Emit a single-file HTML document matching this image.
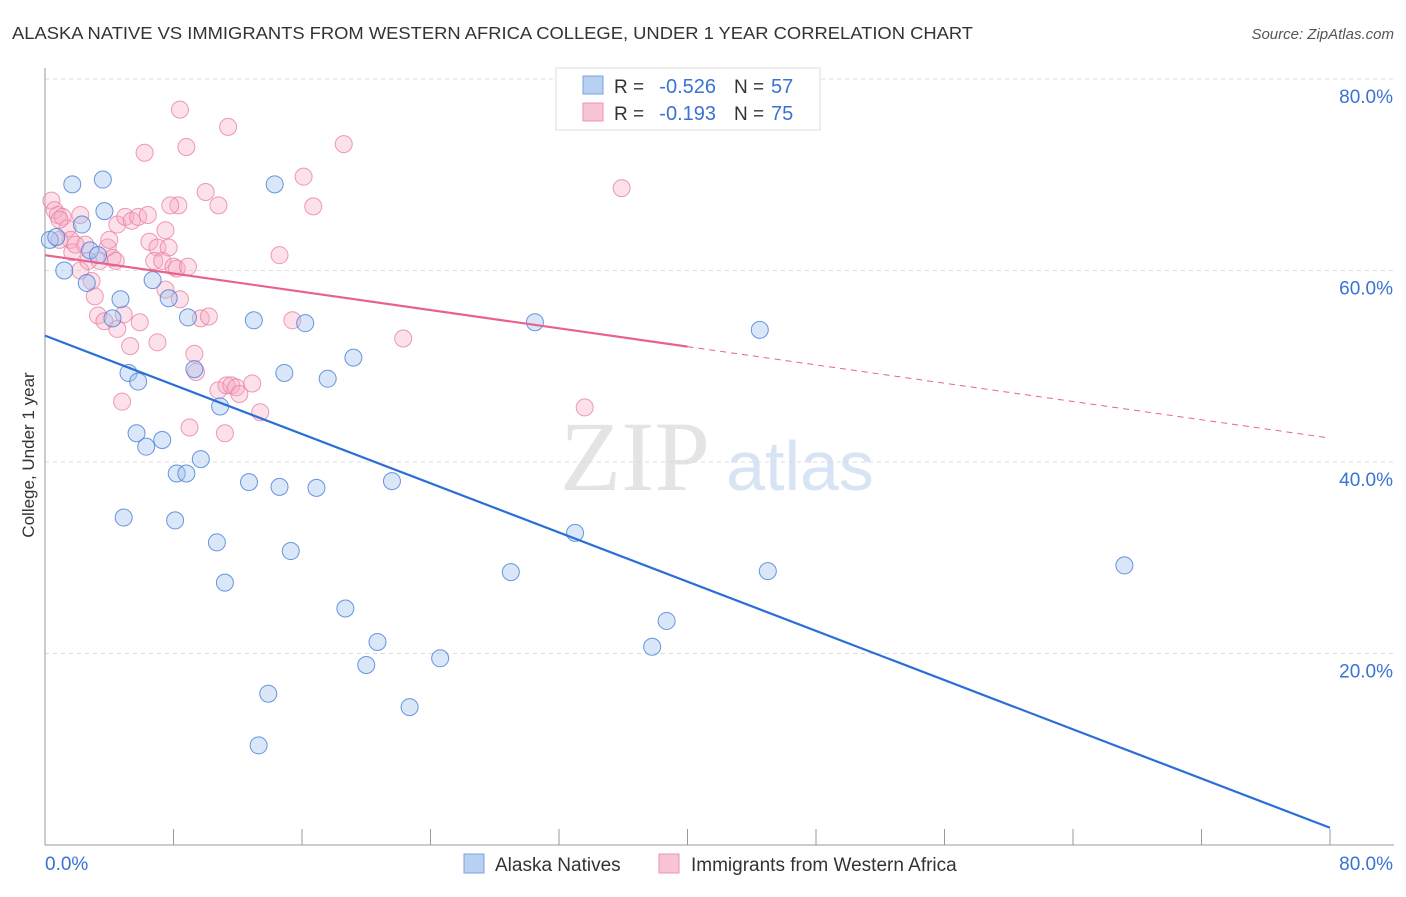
<!DOCTYPE html>
<html><head><meta charset="utf-8"><style>
body{margin:0;background:#fff;font-family:"Liberation Sans",sans-serif;}
svg text{font-family:"Liberation Sans",sans-serif;}
</style></head><body>
<svg id="c" width="1406" height="892">
<text x="12" y="39" font-size="17.5" fill="#333" textLength="961" lengthAdjust="spacingAndGlyphs">ALASKA NATIVE VS IMMIGRANTS FROM WESTERN AFRICA COLLEGE, UNDER 1 YEAR CORRELATION CHART</text>
<text x="1394" y="39" font-size="15" fill="#555" font-style="italic" text-anchor="end">Source: ZipAtlas.com</text>
<text x="0" y="0" transform="translate(34,455) rotate(-90)" font-size="17" fill="#333" text-anchor="middle">College, Under 1 year</text>
<text x="635" y="490" font-size="100" fill="#e4e4e4" text-anchor="middle" style="font-family:'Liberation Serif',serif">ZIP</text>
<text x="800" y="490" font-size="70" fill="#d8e4f4" text-anchor="middle">atlas</text>
<g id="grid"></g><g id="pts"></g><g id="lines"></g>
<g>
<rect x="556" y="68" width="264" height="62" fill="#fff" stroke="#ddd"/>
<rect x="583" y="76" width="20" height="18" fill="#b8d0f2" stroke="#7aa3e0"/>
<rect x="583" y="103" width="20" height="18" fill="#f9c4d4" stroke="#ee93ad"/>
<text x="614" y="93" font-size="19" fill="#333">R =</text>
<text x="716" y="93" font-size="20" fill="#3a72d4" text-anchor="end">-0.526</text>
<text x="734" y="93" font-size="19" fill="#333">N =</text>
<text x="771" y="93" font-size="20" fill="#3a72d4">57</text>
<text x="614" y="120" font-size="19" fill="#333">R =</text>
<text x="716" y="120" font-size="20" fill="#3a72d4" text-anchor="end">-0.193</text>
<text x="734" y="120" font-size="19" fill="#333">N =</text>
<text x="771" y="120" font-size="20" fill="#3a72d4">75</text>
</g>
<g>
<rect x="464" y="854" width="20" height="19" fill="#b8d0f2" stroke="#7aa3e0"/>
<text x="495" y="871" font-size="19" fill="#333">Alaska Natives</text>
<rect x="659" y="854" width="20" height="19" fill="#f9c4d4" stroke="#ee93ad"/>
<text x="691" y="871" font-size="19" fill="#333">Immigrants from Western Africa</text>
</g>
</svg>
<script>
const blueX=[1.7,3.6,3.7,2.3,0.3,0.7,2.8,3.3,1.2,2.6,4.7,6.7,7.7,4.2,8.9,13.0,16.2,30.5,44.5,19.2,5.2,5.8,9.3,14.9,17.6,10.9,5.7,6.3,7.3,9.7,8.2,8.8,12.7,14.6,16.9,21.6,4.9,8.1,33.0,10.7,15.3,29.0,45.0,67.2,11.2,18.7,38.7,20.7,37.8,24.6,20.0,13.9,22.7,13.3,14.3];
const blueY=[69.0,69.5,66.2,64.8,63.2,63.5,62.1,61.6,60.0,58.7,57.0,59.0,57.1,55.0,55.1,54.8,54.5,54.6,53.8,50.9,49.3,48.4,49.7,49.3,48.7,45.8,43.0,41.6,42.3,40.3,38.8,38.8,37.9,37.4,37.3,38.0,34.2,33.9,32.6,31.6,30.7,28.5,28.6,29.2,27.4,24.7,23.4,21.2,20.7,19.5,18.8,15.8,14.4,10.4,69.0];
const pinkX=[0.4,0.6,0.8,1.1,2.2,1.4,1.6,0.9,1.7,2.2,2.7,2.9,3.1,3.3,3.7,4.5,5.3,5.9,4.9,3.9,4.2,4.5,5.0,5.4,5.8,6.4,4.0,6.5,7.0,6.8,7.5,7.7,7.3,8.0,8.2,8.9,8.4,7.5,7.0,9.3,9.4,9.7,10.2,8.4,6.2,8.8,11.4,10.0,10.8,8.3,18.6,16.1,16.7,14.6,15.4,22.3,35.9,10.8,11.3,11.6,11.9,12.1,12.9,13.4,9.0,11.2,4.8,33.6,0.9,2.5,3.4,1.9,4.4,7.8];
const pinkY=[67.3,66.3,65.8,65.6,65.8,64.4,63.2,63.2,61.9,60.0,61.0,58.9,57.3,55.3,54.7,53.9,52.1,54.6,55.4,62.4,61.3,64.8,65.6,65.2,65.6,65.8,63.2,63.0,62.4,61.0,64.2,62.4,61.0,60.4,60.2,60.4,57.0,58.0,52.5,51.3,49.4,55.0,55.2,76.8,72.3,72.9,75.0,68.2,66.8,66.8,73.2,69.8,66.7,61.6,54.8,52.9,68.6,47.5,48.0,48.0,47.8,47.1,48.2,45.2,43.6,43.0,46.3,45.7,65.3,62.7,61.0,62.7,61.0,66.8];
const blueLine=[53.2,1.8], pinkLine=[61.6,42.5];
const yTicks=[20,40,60,80];
const xTickLabels=["0.0%","80.0%"];
const X=v=>45+v*(1285/80), Y=v=>845-v*(766/80);
const NS="http://www.w3.org/2000/svg";
function mk(t,a,p){const e=document.createElementNS(NS,t);for(const k in a)e.setAttribute(k,a[k]);p.appendChild(e);return e;}
const g=document.getElementById('grid');
yTicks.forEach(v=>{
 const l=mk('line',{x1:45,x2:1394,y1:Y(v),y2:Y(v),stroke:'#ddd','stroke-dasharray':'4,4'},g);
 
 
 const t=mk('text',{x:1393,y:Y(v)+24,'font-size':19,fill:'#3a72d4','text-anchor':'end'},g);t.textContent=v.toFixed(1)+'%';
 
 
});
const ax=mk('line',{x1:45,x2:1394,y1:845,y2:845,stroke:'#999'},g);


const ay=mk('line',{x1:45,x2:45,y1:68,y2:845,stroke:'#999'},g);


for(let i=0;i<=10;i++){const l=mk('line',{x1:X(i*8),x2:X(i*8),y1:829,y2:845,stroke:'#999'},g);
 
 }
[[0,45,'start'],[80,1393,'end']].forEach((d,i)=>{const t=mk('text',{x:d[1],y:870,'font-size':19,fill:'#3a72d4','text-anchor':d[2]},g);t.textContent=xTickLabels[i];
 
 });
const p=document.getElementById('pts');
pinkX.forEach((x,i)=>{const c=mk('circle',{cx:X(x),cy:Y(pinkY[i]),r:8.5,fill:'rgba(246,170,195,0.35)',stroke:'rgba(234,130,162,0.8)','stroke-width':1},p);
 
 });
blueX.forEach((x,i)=>{const c=mk('circle',{cx:X(x),cy:Y(blueY[i]),r:8.5,fill:'rgba(160,195,240,0.4)',stroke:'rgba(70,125,215,0.8)','stroke-width':1},p);
 
 });
const L=document.getElementById('lines');
const bl=mk('line',{x1:X(0),y1:Y(blueLine[0]),x2:X(80),y2:Y(blueLine[1]),stroke:'#2b6fd6','stroke-width':2.2},L);


const pm=pinkLine[0]+(pinkLine[1]-pinkLine[0])*40/80;
const pl=mk('line',{x1:X(0),y1:Y(pinkLine[0]),x2:X(40),y2:Y(pm),stroke:'#e8628e','stroke-width':2.2},L);


const pd=mk('line',{x1:X(40),y1:Y(pm),x2:X(80),y2:Y(pinkLine[1]),stroke:'#e8628e','stroke-width':1,'stroke-dasharray':'6,5'},L);


</script>
</body></html>
